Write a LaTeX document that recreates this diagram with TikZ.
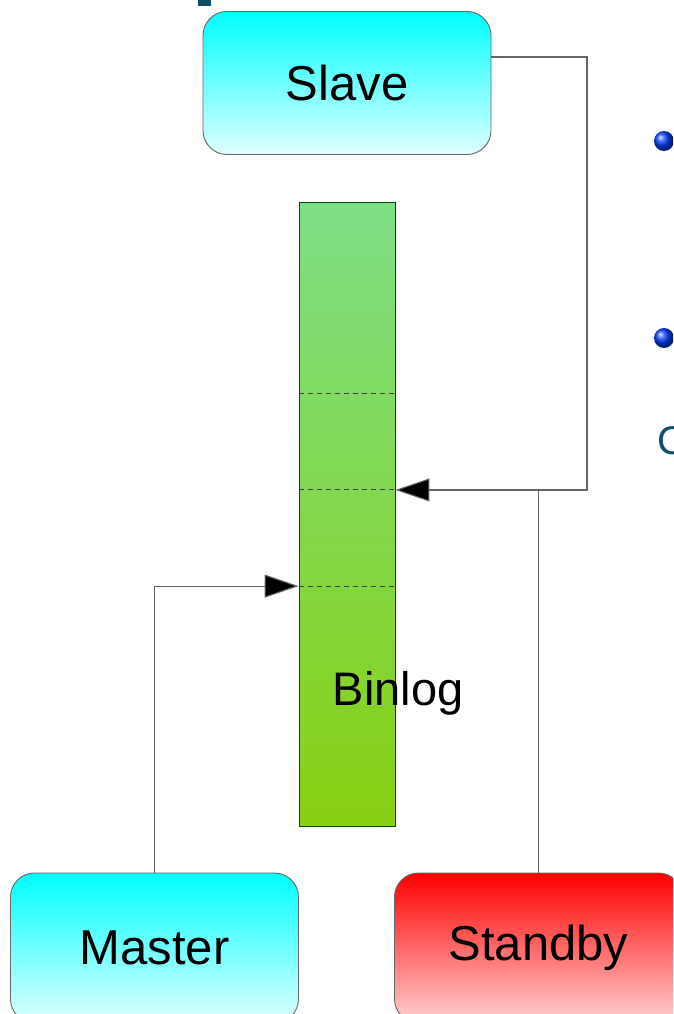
\documentclass[tikz,border=0pt]{standalone}
\usepackage{fontspec}
\setmainfont{Liberation Sans}
\usepackage{xcolor}
\usetikzlibrary{arrows.meta,calc,positioning}

\definecolor{slideblue}{HTML}{0F4C68}
\definecolor{logtop}{HTML}{7EDF86}
\definecolor{logbottom}{HTML}{88D012}

\begin{document}
\begin{tikzpicture}[x=1pt,y=-1pt,
 host/.style={draw=black!60,line width=.9pt,rounded corners=24pt,
   minimum width=288pt,minimum height=150pt,inner sep=0pt,
   font=\fontsize{49}{54}\selectfont},
 active/.style={host,top color=cyan,bottom color=cyan!12},
 spare/.style={host,top color=red,bottom color=red!18},
 logbar/.style={draw=black!70!green,line width=.9pt,
   top color=logtop,bottom color=logbottom,
   minimum width=96pt,minimum height=624pt,inner sep=0pt},
 split/.style={dash pattern=on 5pt off 4pt,draw=black!75,line width=1pt},
 link/.style={draw=black!60,line width=1.1pt},
 feed/.style={link,-{Triangle[length=34pt,width=23pt,fill=black]}}
]
\useasboundingbox (0,0) rectangle (673,1014);
\clip (0,0) rectangle (673,1014);

% slide leftovers
\fill[slideblue] (198,-2) rectangle (211,6);
\shade[ball color=blue!75!cyan] (664,141) circle (10pt);
\shade[ball color=blue!75!cyan] (664,338) circle (10pt);
\node[anchor=west,text=slideblue,font=\fontsize{40}{44}\selectfont,inner sep=0pt]
 (cut) at (657,441) {C};

% hosts and the log
\node[active,minimum height=143pt] (slave) at (347,83) {Slave};
\node[logbar] (binlog) at (347,514) {};
\node[active] (master) at (154.5,948) {Master};
\node[spare] (standby) at (538.5,948) {Standby};
\node[font=\fontsize{47}{52}\selectfont,inner sep=0pt] (loglabel) at (398,693) {Binlog};

% log positions
\coordinate (p4l) at ($(binlog.north west)!4/13!(binlog.south west)$);
\coordinate (p4r) at ($(binlog.north east)!4/13!(binlog.south east)$);
\coordinate (p6l) at ($(binlog.north west)!6/13!(binlog.south west)$);
\coordinate (p6r) at ($(binlog.north east)!6/13!(binlog.south east)$);
\coordinate (p8l) at ($(binlog.north west)!8/13!(binlog.south west)$);
\coordinate (p8r) at ($(binlog.north east)!8/13!(binlog.south east)$);
\draw[split] (p4l) -- (p4r);
\draw[split] (p6l) -- (p6r);
\draw[split] (p8l) -- (p8r);

% connectors
\coordinate (slaveout) at (491,57);
\coordinate (slavecorner) at (587,57);
\coordinate (joint) at (standby.north |- p6r);
\draw[link] (slaveout) -- (slavecorner) -- (slavecorner |- p6r) -- (joint);
\draw[link] (standby.north) -- (joint);
\draw[feed] (joint) -- (p6r);
\draw[feed] (master.north) -- (master.north |- p8l) -- (p8l);
\end{tikzpicture}
\end{document}
